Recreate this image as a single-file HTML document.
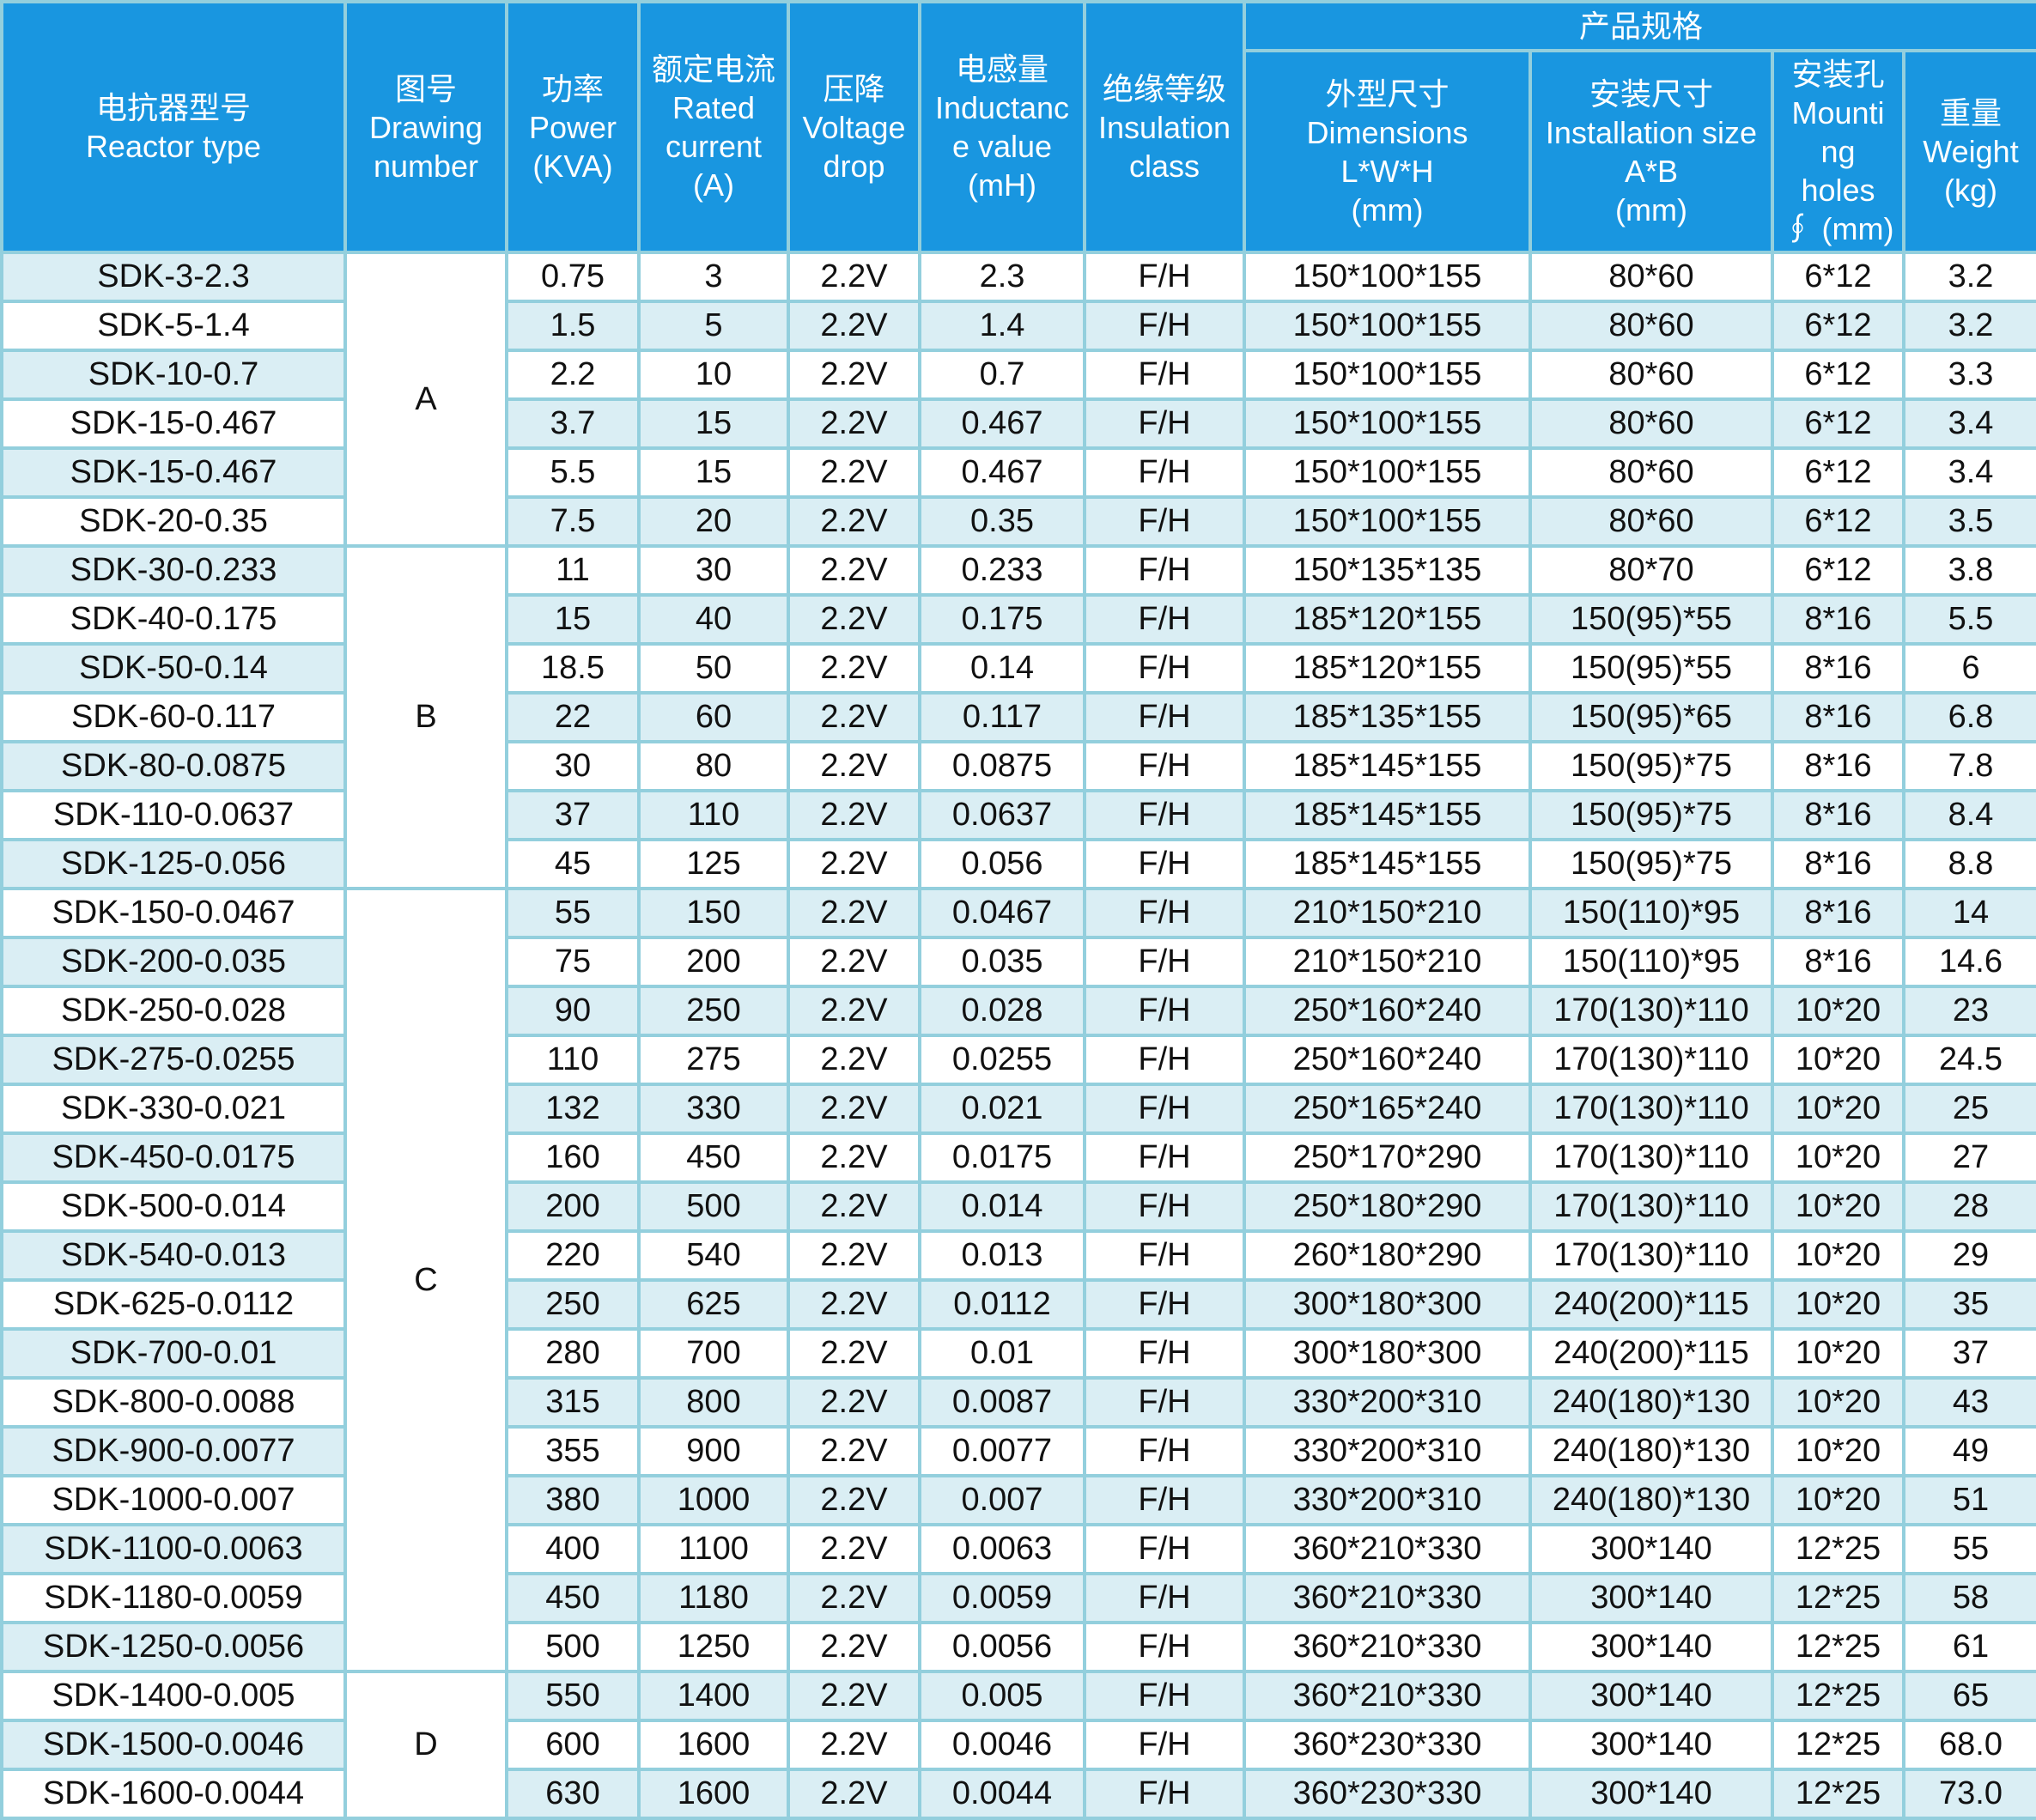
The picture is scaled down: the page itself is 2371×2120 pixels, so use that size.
<!DOCTYPE html>
<html><head><meta charset="utf-8"><style>
html,body{margin:0;padding:0;background:#fff;}
body{width:2371px;height:2119px;overflow:hidden;}
table{border-collapse:collapse;table-layout:fixed;width:2371px;position:absolute;left:0;top:0;
font-family:"Liberation Sans","Noto Sans CJK SC",sans-serif;}
td,th{border:4px solid #93cfdd;padding:0;text-align:center;vertical-align:middle;overflow:hidden;white-space:nowrap;}
th{background:#1996e0;color:#fff;font-weight:normal;font-size:36px;line-height:45px;}
td{height:53px;font-size:38px;color:#111;background:#fff;line-height:53px;}
tbody tr:nth-child(odd) td{background:#fff;}
tbody tr:nth-child(even) td{background:#daeef4;}
tbody tr:nth-child(odd) td.f{background:#daeef4;}
tbody tr:nth-child(even) td.f{background:#fff;}
tbody td.g{background:#fff !important;}
</style></head><body>
<table>
<colgroup>
<col style="width:400px"><col style="width:188px"><col style="width:154px"><col style="width:174px"><col style="width:153px"><col style="width:192px"><col style="width:186px"><col style="width:333px"><col style="width:282px"><col style="width:153px"><col style="width:156px">
</colgroup>
<thead>
<tr style="height:57px">
<th rowspan="2">电抗器型号<br>Reactor type</th>
<th rowspan="2">图号<br>Drawing<br>number</th>
<th rowspan="2">功率<br>Power<br>(KVA)</th>
<th rowspan="2">额定电流<br>Rated<br>current<br>(A)</th>
<th rowspan="2">压降<br>Voltage<br>drop</th>
<th rowspan="2">电感量<br>Inductanc<br>e value<br>(mH)</th>
<th rowspan="2">绝缘等级<br>Insulation<br>class</th>
<th colspan="4" style="line-height:40px">产品规格</th>
</tr>
<tr style="height:235px">
<th>外型尺寸<br>Dimensions<br>L*W*H<br>(mm)</th>
<th>安装尺寸<br>Installation size<br>A*B<br>(mm)</th>
<th>安装孔<br>Mounti<br>ng<br>holes<br>∮ (mm)</th>
<th>重量<br>Weight<br>(kg)</th>
</tr>
</thead>
<tbody>
<tr><td class="f">SDK-3-2.3</td><td class="g" rowspan="6">A</td><td>0.75</td><td>3</td><td>2.2V</td><td>2.3</td><td>F/H</td><td>150*100*155</td><td>80*60</td><td>6*12</td><td>3.2</td></tr>
<tr><td class="f">SDK-5-1.4</td><td>1.5</td><td>5</td><td>2.2V</td><td>1.4</td><td>F/H</td><td>150*100*155</td><td>80*60</td><td>6*12</td><td>3.2</td></tr>
<tr><td class="f">SDK-10-0.7</td><td>2.2</td><td>10</td><td>2.2V</td><td>0.7</td><td>F/H</td><td>150*100*155</td><td>80*60</td><td>6*12</td><td>3.3</td></tr>
<tr><td class="f">SDK-15-0.467</td><td>3.7</td><td>15</td><td>2.2V</td><td>0.467</td><td>F/H</td><td>150*100*155</td><td>80*60</td><td>6*12</td><td>3.4</td></tr>
<tr><td class="f">SDK-15-0.467</td><td>5.5</td><td>15</td><td>2.2V</td><td>0.467</td><td>F/H</td><td>150*100*155</td><td>80*60</td><td>6*12</td><td>3.4</td></tr>
<tr><td class="f">SDK-20-0.35</td><td>7.5</td><td>20</td><td>2.2V</td><td>0.35</td><td>F/H</td><td>150*100*155</td><td>80*60</td><td>6*12</td><td>3.5</td></tr>
<tr><td class="f">SDK-30-0.233</td><td class="g" rowspan="7">B</td><td>11</td><td>30</td><td>2.2V</td><td>0.233</td><td>F/H</td><td>150*135*135</td><td>80*70</td><td>6*12</td><td>3.8</td></tr>
<tr><td class="f">SDK-40-0.175</td><td>15</td><td>40</td><td>2.2V</td><td>0.175</td><td>F/H</td><td>185*120*155</td><td>150(95)*55</td><td>8*16</td><td>5.5</td></tr>
<tr><td class="f">SDK-50-0.14</td><td>18.5</td><td>50</td><td>2.2V</td><td>0.14</td><td>F/H</td><td>185*120*155</td><td>150(95)*55</td><td>8*16</td><td>6</td></tr>
<tr><td class="f">SDK-60-0.117</td><td>22</td><td>60</td><td>2.2V</td><td>0.117</td><td>F/H</td><td>185*135*155</td><td>150(95)*65</td><td>8*16</td><td>6.8</td></tr>
<tr><td class="f">SDK-80-0.0875</td><td>30</td><td>80</td><td>2.2V</td><td>0.0875</td><td>F/H</td><td>185*145*155</td><td>150(95)*75</td><td>8*16</td><td>7.8</td></tr>
<tr><td class="f">SDK-110-0.0637</td><td>37</td><td>110</td><td>2.2V</td><td>0.0637</td><td>F/H</td><td>185*145*155</td><td>150(95)*75</td><td>8*16</td><td>8.4</td></tr>
<tr><td class="f">SDK-125-0.056</td><td>45</td><td>125</td><td>2.2V</td><td>0.056</td><td>F/H</td><td>185*145*155</td><td>150(95)*75</td><td>8*16</td><td>8.8</td></tr>
<tr><td class="f">SDK-150-0.0467</td><td class="g" rowspan="16">C</td><td>55</td><td>150</td><td>2.2V</td><td>0.0467</td><td>F/H</td><td>210*150*210</td><td>150(110)*95</td><td>8*16</td><td>14</td></tr>
<tr><td class="f">SDK-200-0.035</td><td>75</td><td>200</td><td>2.2V</td><td>0.035</td><td>F/H</td><td>210*150*210</td><td>150(110)*95</td><td>8*16</td><td>14.6</td></tr>
<tr><td class="f">SDK-250-0.028</td><td>90</td><td>250</td><td>2.2V</td><td>0.028</td><td>F/H</td><td>250*160*240</td><td>170(130)*110</td><td>10*20</td><td>23</td></tr>
<tr><td class="f">SDK-275-0.0255</td><td>110</td><td>275</td><td>2.2V</td><td>0.0255</td><td>F/H</td><td>250*160*240</td><td>170(130)*110</td><td>10*20</td><td>24.5</td></tr>
<tr><td class="f">SDK-330-0.021</td><td>132</td><td>330</td><td>2.2V</td><td>0.021</td><td>F/H</td><td>250*165*240</td><td>170(130)*110</td><td>10*20</td><td>25</td></tr>
<tr><td class="f">SDK-450-0.0175</td><td>160</td><td>450</td><td>2.2V</td><td>0.0175</td><td>F/H</td><td>250*170*290</td><td>170(130)*110</td><td>10*20</td><td>27</td></tr>
<tr><td class="f">SDK-500-0.014</td><td>200</td><td>500</td><td>2.2V</td><td>0.014</td><td>F/H</td><td>250*180*290</td><td>170(130)*110</td><td>10*20</td><td>28</td></tr>
<tr><td class="f">SDK-540-0.013</td><td>220</td><td>540</td><td>2.2V</td><td>0.013</td><td>F/H</td><td>260*180*290</td><td>170(130)*110</td><td>10*20</td><td>29</td></tr>
<tr><td class="f">SDK-625-0.0112</td><td>250</td><td>625</td><td>2.2V</td><td>0.0112</td><td>F/H</td><td>300*180*300</td><td>240(200)*115</td><td>10*20</td><td>35</td></tr>
<tr><td class="f">SDK-700-0.01</td><td>280</td><td>700</td><td>2.2V</td><td>0.01</td><td>F/H</td><td>300*180*300</td><td>240(200)*115</td><td>10*20</td><td>37</td></tr>
<tr><td class="f">SDK-800-0.0088</td><td>315</td><td>800</td><td>2.2V</td><td>0.0087</td><td>F/H</td><td>330*200*310</td><td>240(180)*130</td><td>10*20</td><td>43</td></tr>
<tr><td class="f">SDK-900-0.0077</td><td>355</td><td>900</td><td>2.2V</td><td>0.0077</td><td>F/H</td><td>330*200*310</td><td>240(180)*130</td><td>10*20</td><td>49</td></tr>
<tr><td class="f">SDK-1000-0.007</td><td>380</td><td>1000</td><td>2.2V</td><td>0.007</td><td>F/H</td><td>330*200*310</td><td>240(180)*130</td><td>10*20</td><td>51</td></tr>
<tr><td class="f">SDK-1100-0.0063</td><td>400</td><td>1100</td><td>2.2V</td><td>0.0063</td><td>F/H</td><td>360*210*330</td><td>300*140</td><td>12*25</td><td>55</td></tr>
<tr><td class="f">SDK-1180-0.0059</td><td>450</td><td>1180</td><td>2.2V</td><td>0.0059</td><td>F/H</td><td>360*210*330</td><td>300*140</td><td>12*25</td><td>58</td></tr>
<tr><td class="f">SDK-1250-0.0056</td><td>500</td><td>1250</td><td>2.2V</td><td>0.0056</td><td>F/H</td><td>360*210*330</td><td>300*140</td><td>12*25</td><td>61</td></tr>
<tr><td class="f">SDK-1400-0.005</td><td class="g" rowspan="3">D</td><td>550</td><td>1400</td><td>2.2V</td><td>0.005</td><td>F/H</td><td>360*210*330</td><td>300*140</td><td>12*25</td><td>65</td></tr>
<tr><td class="f">SDK-1500-0.0046</td><td>600</td><td>1600</td><td>2.2V</td><td>0.0046</td><td>F/H</td><td>360*230*330</td><td>300*140</td><td>12*25</td><td>68.0</td></tr>
<tr><td class="f">SDK-1600-0.0044</td><td>630</td><td>1600</td><td>2.2V</td><td>0.0044</td><td>F/H</td><td>360*230*330</td><td>300*140</td><td>12*25</td><td>73.0</td></tr>
</tbody>
</table>
</body></html>
